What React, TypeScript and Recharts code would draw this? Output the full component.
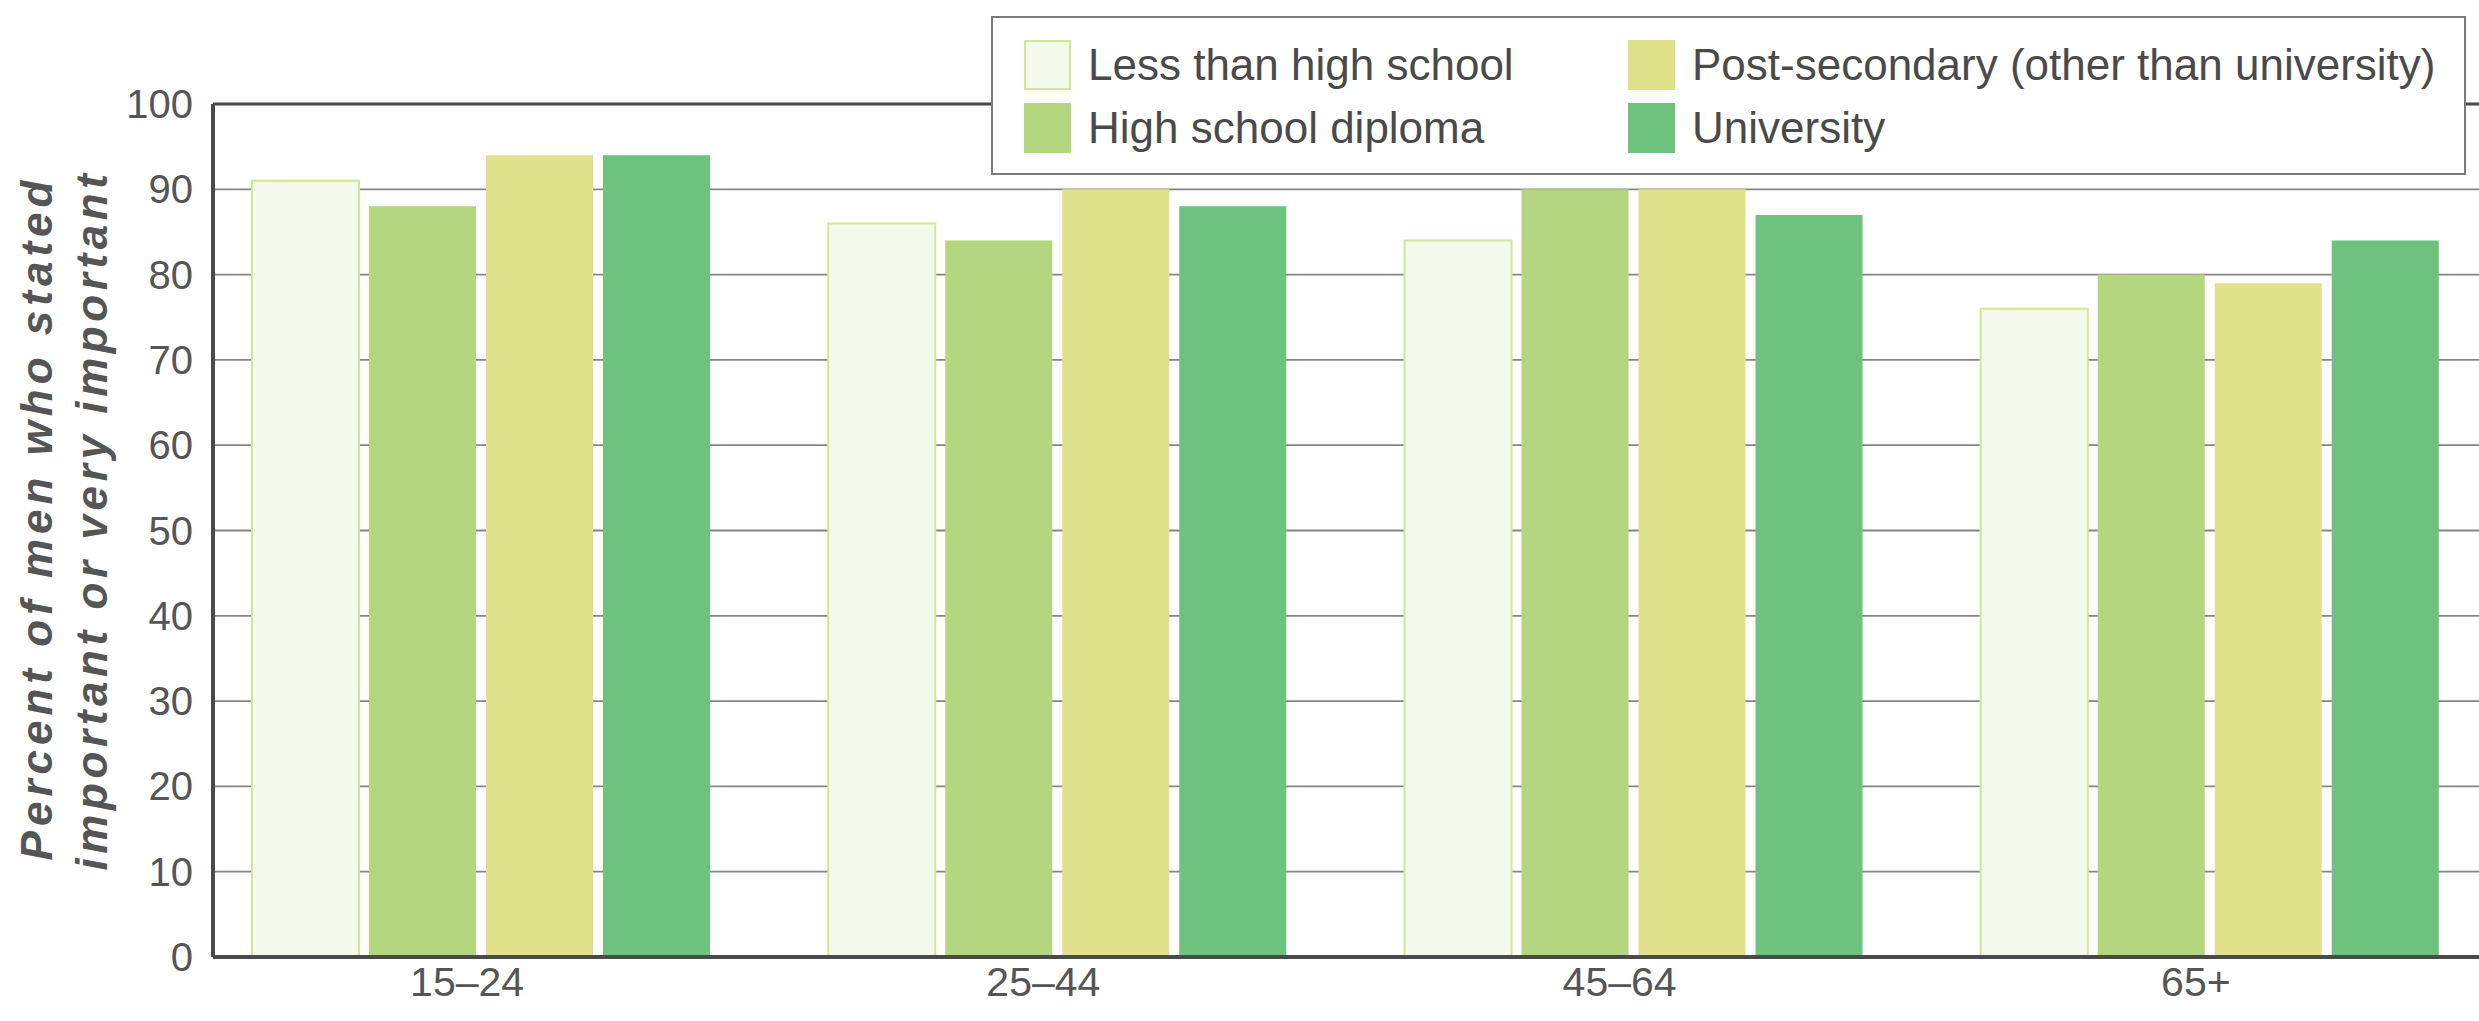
import React from "react";
import {
  BarChart,
  Bar,
  XAxis,
  YAxis,
  CartesianGrid,
  Legend,
  ReferenceLine,
} from "recharts";

const categories = ["15–24", "25–44", "45–64", "65+"];
const lessThanHighSchool = [91, 86, 84, 76];
const highSchoolDiploma = [88, 84, 90, 80];
const postSecondary = [94, 90, 90, 79];
const university = [94, 88, 87, 84];
const yTicks = [0, 10, 20, 30, 40, 50, 60, 70, 80, 90, 100];

const seriesNames = [
  "Less than high school",
  "High school diploma",
  "Post-secondary (other than university)",
  "University",
];
const seriesKeys = ["less", "highSchool", "postSecondary", "university"];
const seriesFills = ["#f5fbec", "#b4d67f", "#dfe28a", "#6dc27e"];
const seriesStrokes = ["#d3e69a", "none", "none", "none"];

const data = categories.map((name, i) => ({
  name,
  less: lessThanHighSchool[i],
  highSchool: highSchoolDiploma[i],
  postSecondary: postSecondary[i],
  university: university[i],
}));

const FONT = "'Liberation Sans', Arial, Helvetica, sans-serif";

const XTick = ({ x, y, payload }: any) => (
  <text
    x={x - 13}
    y={y + 39}
    textAnchor="middle"
    fontFamily={FONT}
    fontSize={41}
    fill="#555"
  >
    {payload.value}
  </text>
);

const YTick = ({ x, y, payload }: any) => (
  <text
    x={x}
    y={y + 14}
    textAnchor="end"
    fontFamily={FONT}
    fontSize={40}
    fill="#555"
  >
    {payload.value}
  </text>
);

// two-line axis title
const YTitle = () => (
  <g fontFamily={FONT} fontSize={44} fontWeight="bold" fontStyle="italic" fill="#555">
    <text
      x={0}
      y={0}
      textAnchor="middle"
      letterSpacing={5}
      transform="translate(52, 518) rotate(-90)"
    >
      Percent of men who stated
    </text>
    <text
      x={0}
      y={0}
      textAnchor="middle"
      letterSpacing={4.6}
      transform="translate(107, 520) rotate(-90)"
    >
      important or very important
    </text>
  </g>
);

// legend cells: [column, row]
const legendCells = [
  [0, 0],
  [0, 1],
  [1, 0],
  [1, 1],
];

const renderLegend = () => (
  <div
    style={{
      position: "relative",
      width: 1475,
      height: 159,
      border: "2px solid #7a7a7a",
      boxSizing: "border-box",
      background: "#fff",
      fontFamily: FONT,
      fontSize: 44,
      color: "#4a4a4a",
    }}
  >
    {seriesNames.map((label, i) => {
      const [col, row] = legendCells[i];
      return (
        <div
          key={label}
          style={{
            position: "absolute",
            left: 31 + col * 604,
            top: 22 + row * 63,
            height: 50,
            display: "flex",
            alignItems: "center",
            whiteSpace: "nowrap",
          }}
        >
          <span
            style={{
              display: "inline-block",
              width: 47,
              height: 50,
              boxSizing: "border-box",
              background: seriesFills[i],
              border: seriesStrokes[i] === "none" ? "none" : `2px solid ${seriesStrokes[i]}`,
              marginRight: 17,
            }}
          />
          <span>{label}</span>
        </div>
      );
    })}
  </div>
);

export default function App() {
  return (
    <div
      style={{
        position: "fixed",
        left: 0,
        top: 0,
        width: 2479,
        height: 1021,
        overflow: "hidden",
        background: "#fff",
      }}
    >
      <BarChart
        width={2530}
        height={1021}
        data={data}
        margin={{ top: 104, right: 0, left: 0, bottom: 4 }}
        barCategoryGap={60}
        barGap={10}
      >
        <CartesianGrid vertical={false} stroke="#85858c" strokeWidth={1.8} />
        <XAxis
          dataKey="name"
          height={60}
          padding={{ left: -21, right: 33 }}
          tick={<XTick />}
          tickLine={false}
          tickSize={0}
          tickMargin={0}
          axisLine={{ stroke: "#4a4a4a", strokeWidth: 4 }}
          interval={0}
        />
        <YAxis
          width={213}
          domain={[0, 100]}
          ticks={yTicks}
          interval={0}
          tick={<YTick />}
          tickLine={false}
          tickSize={0}
          tickMargin={20}
          axisLine={{ stroke: "#4a4a4a", strokeWidth: 4 }}
          label={<YTitle />}
        />
        <ReferenceLine y={100} stroke="#4a4a4a" strokeWidth={3} />
        {seriesKeys.map((key, i) => (
          <Bar
            key={key}
            dataKey={key}
            name={seriesNames[i]}
            fill={seriesFills[i]}
            stroke={seriesStrokes[i]}
            strokeWidth={2}
            isAnimationActive={false}
          />
        ))}
        <Legend
          layout="horizontal"
          verticalAlign="middle"
          align="center"
          content={renderLegend}
          wrapperStyle={{ left: 991, top: 16, width: 1475, height: 159 }}
        />
      </BarChart>
    </div>
  );
}
